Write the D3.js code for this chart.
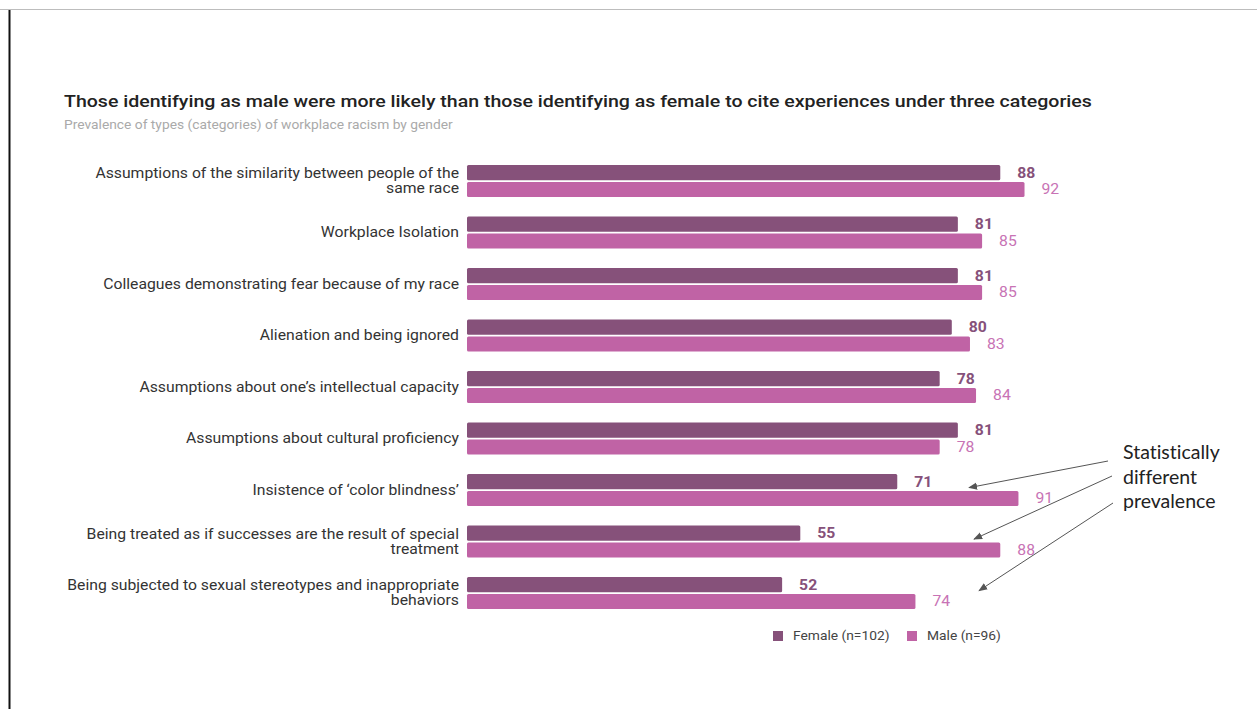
<!DOCTYPE html>
<html>
<head>
<meta charset="utf-8">
<script src="https://cdn.jsdelivr.net/npm/d3@7"></script>
<style>
  html, body { margin: 0; padding: 0; background: #fff; }
  svg { display: block; }
  text { font-family: Roboto, "Noto Sans", sans-serif; }
</style>
</head>
<body>
<svg id="chart" width="1257" height="709"></svg>
<script>
// Categories of workplace racism (label lines), top to bottom
const categories = [
  ["Assumptions of the similarity between people of the", "same race"],
  ["Workplace Isolation"],
  ["Colleagues demonstrating fear because of my race"],
  ["Alienation and being ignored"],
  ["Assumptions about one\u2019s intellectual capacity"],
  ["Assumptions about cultural proficiency"],
  ["Insistence of \u2018color blindness\u2019"],
  ["Being treated as if successes are the result of special", "treatment"],
  ["Being subjected to sexual stereotypes and inappropriate", "behaviors"]
];
const femaleValues = [88, 81, 81, 80, 78, 81, 71, 55, 52];
const maleValues   = [92, 85, 85, 83, 84, 78, 91, 88, 74];
const seriesNames  = ["Female (n=102)", "Male (n=96)"];
const annotationLines = ["Statistically", "different", "prevalence"];
// Rows flagged as statistically different
const flaggedRows = [6, 7, 8];

const femaleColor = "#86517a";
const maleColor = "#c063a5";
const femaleLabelColor = "#86517a";
const maleLabelColor = "#c873b5";

// Horizontal stretch applied to the chart's text
const SX = 1.125;

const svg = d3.select("#chart");

// Helper: text inside a group stretched horizontally around its anchor point
function stretchedText(parent, x, y, sx) {
  return parent.append("g")
    .attr("transform", `translate(${x},${y}) scale(${sx},1)`)
    .append("text").attr("x", 0).attr("y", 0);
}

// Frame lines
svg.append("line").attr("x1", 0).attr("x2", 1257).attr("y1", 9.5).attr("y2", 9.5)
  .attr("stroke", "#bdbdbd").attr("stroke-width", 1);
svg.append("line").attr("x1", 9.5).attr("x2", 9.5).attr("y1", 10).attr("y2", 709)
  .attr("stroke", "#111").attr("stroke-width", 2);

// Title and subtitle
stretchedText(svg, 64, 107, 1.15)
  .attr("font-size", 17).attr("font-weight", 500).attr("fill", "#222")
  .text("Those identifying as male were more likely than those identifying as female to cite experiences under three categories");
stretchedText(svg, 64, 129, 1.15)
  .attr("font-size", 12).attr("fill", "#aaaaaa")
  .text("Prevalence of types (categories) of workplace racism by gender");

// Scales
const x = d3.scaleLinear().domain([0, 100]).range([467, 1073]);
const y = d3.scaleBand().domain(d3.range(categories.length))
  .range([155.3, 618.8]).paddingInner(0.38).paddingOuter(0.19);
const sub = d3.scaleBand().domain([0, 1]).range([0, y.bandwidth()]).paddingInner(0.1);

const rows = svg.append("g").selectAll("g.row")
  .data(categories.map((c, i) => ({ lines: c, f: femaleValues[i], m: maleValues[i], i })))
  .join("g").attr("class", "row")
  .attr("transform", d => `translate(0,${y(d.i)})`);

// Category labels, right-aligned against the bars
rows.each(function(d) {
  const lh = 15;
  const mid = y.bandwidth() / 2;
  const start = mid - (d.lines.length - 1) * lh / 2;
  const t = stretchedText(d3.select(this), 459, 0, SX)
    .attr("text-anchor", "end")
    .attr("font-size", 14)
    .attr("fill", "#333");
  d.lines.forEach((ln, k) => {
    t.append("tspan").attr("x", 0).attr("y", start + k * lh).attr("dy", "0.35em").text(ln);
  });
});

// Bars
rows.append("rect")
  .attr("x", x(0)).attr("y", sub(0))
  .attr("width", d => x(d.f) - x(0)).attr("height", sub.bandwidth())
  .attr("rx", 1.5).attr("fill", femaleColor);
rows.append("rect")
  .attr("x", x(0)).attr("y", sub(1))
  .attr("width", d => x(d.m) - x(0)).attr("height", sub.bandwidth())
  .attr("rx", 1.5).attr("fill", maleColor);

// Value labels
rows.each(function(d) {
  const g = d3.select(this);
  stretchedText(g, x(d.f) + 17, sub(0) + sub.bandwidth() / 2, SX)
    .attr("dy", "0.35em")
    .attr("font-size", 14).attr("font-weight", 700).attr("fill", femaleLabelColor)
    .text(d.f);
  stretchedText(g, x(d.m) + 17, sub(1) + sub.bandwidth() / 2, SX)
    .attr("dy", "0.35em")
    .attr("font-size", 14).attr("fill", maleLabelColor)
    .text(d.m);
});

// Legend
const legend = svg.append("g").attr("transform", "translate(773,636)");
const legendItems = [
  { name: seriesNames[0], color: femaleColor, x: 0 },
  { name: seriesNames[1], color: maleColor, x: 134 }
];
legendItems.forEach(it => {
  legend.append("rect").attr("x", it.x).attr("y", -5).attr("width", 10).attr("height", 10)
    .attr("fill", it.color);
  stretchedText(legend, it.x + 20, 0, 1.15)
    .attr("dy", "0.35em")
    .attr("font-size", 12).attr("fill", "#444").text(it.name);
});

// Annotation text and arrows
svg.append("defs").append("marker")
  .attr("id", "arrowhead").attr("viewBox", "0 0 10 10")
  .attr("refX", 9).attr("refY", 5)
  .attr("markerWidth", 9).attr("markerHeight", 9)
  .attr("markerUnits", "userSpaceOnUse")
  .attr("orient", "auto")
  .append("path").attr("d", "M0,1 L10,5 L0,9 Z").attr("fill", "#555");

const ann = svg.append("text").attr("x", 1123).attr("font-size", 19.5)
  .attr("fill", "#222")
  .style("font-family", "Lato, 'Open Sans', sans-serif")
  .style("font-variant-ligatures", "none");
annotationLines.forEach((ln, k) => {
  ann.append("tspan").attr("x", 1123).attr("y", 459 + k * 24.5).text(ln);
});

const arrowStarts = [[1108, 461], [1112, 476], [1113, 503]];
flaggedRows.forEach((r, k) => {
  const yTarget = y(r) + sub(0) + sub.bandwidth() / 2 + 6;
  const xTarget = 969 + k * 5;
  svg.append("line")
    .attr("x1", arrowStarts[k][0]).attr("y1", arrowStarts[k][1])
    .attr("x2", xTarget).attr("y2", yTarget)
    .attr("stroke", "#555").attr("stroke-width", 1)
    .attr("marker-end", "url(#arrowhead)");
});
</script>
</body>
</html>
